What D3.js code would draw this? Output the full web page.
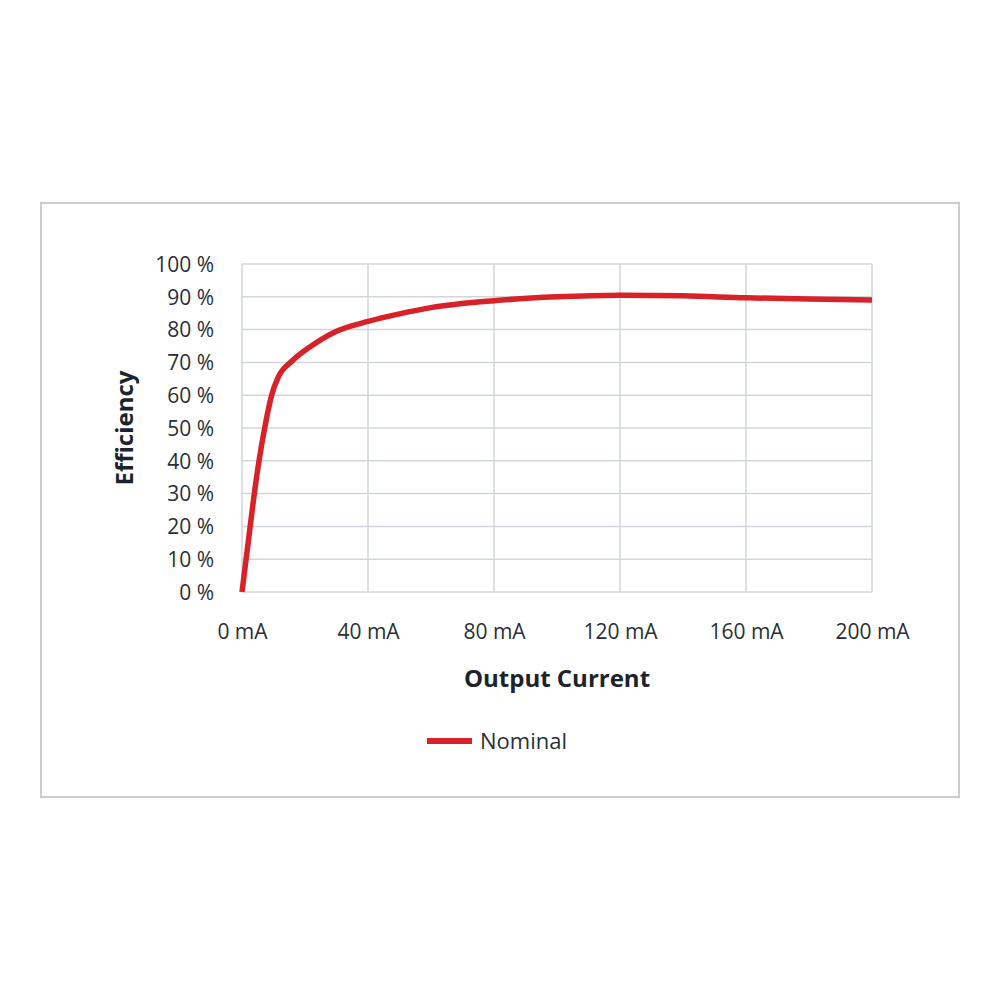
<!DOCTYPE html>
<html>
<head>
<meta charset="utf-8">
<script src="https://cdn.jsdelivr.net/npm/d3@7"></script>
<style>
  body { margin: 0; background: #fff; }
  .axis text { font-family: "Open Sans", sans-serif; font-size: 21px; fill: #2a2f36; }
  .axis path, .axis line { display: none; }
  .grid line { stroke: #cfd6dd; stroke-width: 1.5; }
</style>
</head>
<body>
<svg class="chart"></svg>
<script>
// output current (mA) and efficiency (%)
var current = [0, 1.3, 2.6, 3.9, 5.4, 7.2, 9.4, 11.5, 16, 22, 30, 40, 50, 60, 80, 100, 120, 140, 160, 180, 200];
var efficiency = [0, 10, 20, 30, 40, 50, 60, 65.5, 70.5, 75, 79.5, 82.5, 84.8, 86.7, 88.8, 90, 90.5, 90.3, 89.7, 89.3, 89];
var xTicks = [0, 40, 80, 120, 160, 200];
var yTicks = [0, 10, 20, 30, 40, 50, 60, 70, 80, 90, 100];
var seriesName = "Nominal";

var margin = {top: 264, left: 242},
    width = 630,
    height = 328;

var svg = d3.select(".chart")
    .attr("width", 1000)
    .attr("height", 1000);

// outer frame
svg.append("rect")
    .attr("x", 41).attr("y", 203)
    .attr("width", 918).attr("height", 594)
    .attr("fill", "none")
    .attr("stroke", "#c9cdd1")
    .attr("stroke-width", 2);

var chart = svg.append("g")
    .attr("transform", "translate(" + margin.left + "," + margin.top + ")");

var x = d3.scaleLinear().domain([0, 200]).range([0, width]);
var y = d3.scaleLinear().domain([0, 100]).range([height, 0]);

// grid
chart.append("g").attr("class", "grid")
  .selectAll("line.h")
    .data(yTicks)
  .enter().append("line")
    .attr("x1", 0).attr("x2", width)
    .attr("y1", d => y(d)).attr("y2", d => y(d));

chart.append("g").attr("class", "grid")
  .selectAll("line.v")
    .data(xTicks)
  .enter().append("line")
    .attr("y1", 0).attr("y2", height)
    .attr("x1", d => x(d)).attr("x2", d => x(d));

var xAxis = d3.axisBottom(x).tickValues(xTicks).tickSize(0).tickPadding(32)
    .tickFormat(d => d + " mA");
var yAxis = d3.axisLeft(y).tickValues(yTicks).tickSize(0).tickPadding(28)
    .tickFormat(d => d + " %");

chart.append("g")
    .attr("class", "x axis")
    .attr("transform", "translate(0," + height + ")")
    .call(xAxis);

chart.append("g")
    .attr("class", "y axis")
    .call(yAxis)
  .selectAll("text")
    .attr("dy", "0.35em");

// axis titles
svg.append("text")
    .attr("x", 557).attr("y", 687)
    .attr("text-anchor", "middle")
    .style("font-family", "'Open Sans', sans-serif")
    .style("font-weight", "bold")
    .style("font-size", "24px")
    .style("fill", "#1c232d")
    .text("Output Current");

svg.append("text")
    .attr("transform", "translate(133,428) rotate(-90)")
    .attr("text-anchor", "middle")
    .style("font-family", "'Open Sans', sans-serif")
    .style("font-weight", "bold")
    .style("font-size", "24px")
    .style("fill", "#1c232d")
    .text("Efficiency");

var points = current.map((c, i) => ({current: c, eff: efficiency[i]}));

var line = d3.line()
    .curve(d3.curveMonotoneX)
    .x(d => x(d.current))
    .y(d => y(d.eff));

chart.append("path")
    .datum(points)
    .attr("d", line)
    .attr("fill", "none")
    .attr("stroke", "#d92128")
    .attr("stroke-width", 5.5)
    .attr("stroke-linejoin", "round");

// legend
var legend = svg.append("g").attr("transform", "translate(427,741)");
legend.append("line")
    .attr("x1", 0).attr("x2", 45)
    .attr("stroke", "#d92128")
    .attr("stroke-width", 6);
legend.append("text")
    .attr("x", 53).attr("dy", "0.35em")
    .style("font-family", "'Open Sans', sans-serif")
    .style("font-size", "22px")
    .style("fill", "#2a2f36")
    .text(seriesName);
</script>
</body>
</html>
